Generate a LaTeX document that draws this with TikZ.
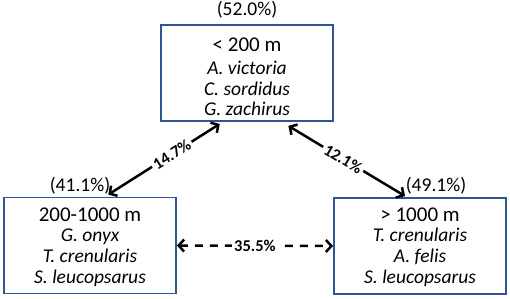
\documentclass[tikz,border=0pt]{standalone}
\usepackage{fontspec}
\setmainfont{Carlito}
\usetikzlibrary{arrows.meta,calc}
\definecolor{boxblue}{HTML}{2F5597}
\tikzset{
 zone/.style={draw=boxblue, line width=1.8pt, minimum width=172pt, minimum height=96pt, align=center, inner sep=0pt, font=\fontsize{19.5}{20.8}\selectfont\itshape},
 link/.style={line width=2.5pt, {Straight Barb[length=5.5pt,width=12pt]}-{Straight Barb[length=5.5pt,width=12pt]}},
 lab/.style={fill=white, font=\bfseries\fontsize{16.5}{18}\selectfont, inner sep=2.5pt},
 pct/.style={font=\fontsize{19.5}{22}\selectfont, inner sep=0pt},
}
\newcommand{\ztitlefont}{\upshape\fontsize{21}{22}\selectfont}
\begin{document}
\begin{tikzpicture}[x=1pt,y=-1pt]
\useasboundingbox (0,0) rectangle (510,299);
\node[zone] (top) at (247,73) {};
\node[zone] (left) at (90,245.5) {};
\node[zone] (right) at (420,246) {};
\node[zone, draw=none, minimum width=0pt, minimum height=0pt] (topt) at (247,77) {{\ztitlefont < 200 m}\\[2pt]A. victoria\\C. sordidus\\G. zachirus};
\node[zone, draw=none, minimum width=0pt, minimum height=0pt] (leftt) at (90,247) {{\ztitlefont 200-1000 m}\\[0pt]G. onyx\\T. crenularis\\S. leucopsarus};
\node[zone, draw=none, minimum width=0pt, minimum height=0pt] (rightt) at (420,247) {{\ztitlefont > 1000 m}\\[0pt]T. crenularis\\A. felis\\S. leucopsarus};
\node[pct] (p1) at (247,10) {(52.0\%)};
\node[pct] (p2) at (80,186) {(41.1\%)};
\node[pct] (p3) at (436,186) {(49.1\%)};
\draw[link] ($(top.south west)!0.343!(top.south east)+(0,2)$) -- ($(left.north west)!0.605!(left.north east)+(0,-2)$) node[lab,sloped,pos=0.43] {14.7\%};
\draw[link] ($(top.south west)!0.738!(top.south east)+(0,4)$) -- ($(right.north west)!0.414!(right.north east)+(0,-1)$) node[lab,sloped,pos=0.47] {12.1\%};
\draw[link,dash pattern=on 8pt off 7pt] (left.east) -- (right.west) node[lab,midway] {35.5\%};
\end{tikzpicture}
\end{document}
